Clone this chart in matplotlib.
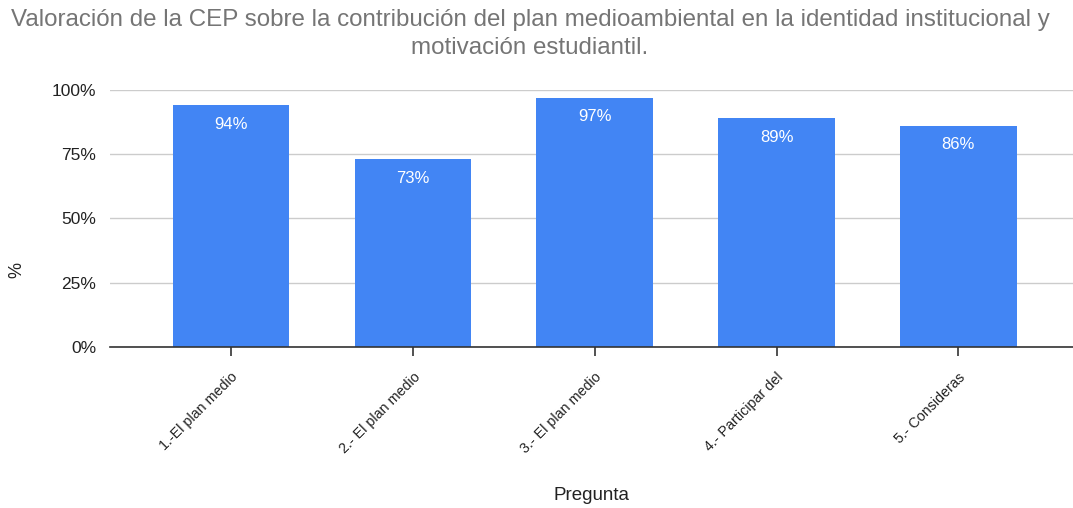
import matplotlib.pyplot as plt
from matplotlib.ticker import FuncFormatter

plt.rcParams["font.family"] = ["Liberation Sans", "DejaVu Sans"]

preguntas = ["1.-El plan medio", "2.- El plan medio", "3.- El plan medio",
             "4.- Participar del", "5.- Consideras"]
valores = [94, 73, 97, 89, 86]

fig = plt.figure(figsize=(10.73, 5.08), dpi=100)
ax = fig.add_axes([0.1025, 0.317, 0.8975, 0.506])

x = range(len(preguntas))
bars = ax.bar(x, valores, width=0.64, color="#4285F4", zorder=2)
for b, v in zip(bars, valores):
    ax.text(b.get_x() + b.get_width() / 2, v - 4.5, f"{v}%", ha="center", va="top",
            color="white", fontsize=12, zorder=3)

ax.set_xlim(-0.665, 4.63)
ax.set_ylim(0, 100)
ax.set_yticks([0, 25, 50, 75, 100])
ax.yaxis.set_major_formatter(FuncFormatter(lambda v, p: f"{v:.0f}%"))
ax.grid(axis="y", color="#cccccc", linewidth=1, zorder=0)
ax.tick_params(axis="y", length=0, labelsize=12.5, labelcolor="#222222", pad=10)

ax.set_xticks(list(x))
ax.set_xticklabels(preguntas, rotation=45, ha="right", rotation_mode="anchor",
                   fontsize=10.3, color="#222222")
ax.tick_params(axis="x", direction="inout", length=13, width=1.2, color="#333333", pad=10)

for s in ["top", "right", "left"]:
    ax.spines[s].set_visible(False)
ax.spines["bottom"].set_color("#333333")
ax.spines["bottom"].set_linewidth(1.2)
ax.spines["bottom"].set_zorder(4)

fig.text(0.016, (508 - 270) / 508, "%", rotation=90, ha="center", va="center",
         fontsize=13, color="#222222")
fig.text((110 + 1073) / 2 / 1073, (508 - 495) / 508, "Pregunta", ha="center",
         va="center", fontsize=13.5, color="#222222")
fig.text(0.494, 0.933, "Valoración de la CEP sobre la contribución del plan medioambiental en la identidad institucional y\nmotivación estudiantil.",
         ha="center", va="center", fontsize=17.4, color="#757575", linespacing=1.35)

fig.savefig("out.png", dpi=100)
